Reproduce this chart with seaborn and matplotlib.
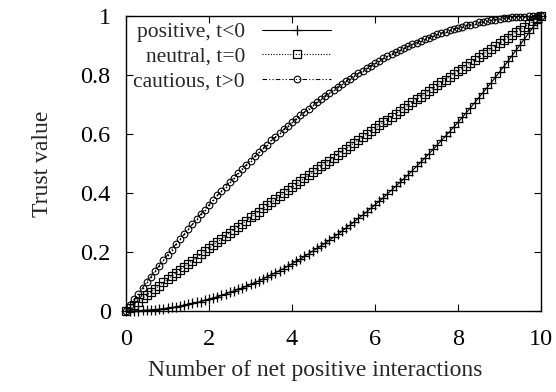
import numpy as np
import pandas as pd
import matplotlib
matplotlib.use("Agg")
import matplotlib.pyplot as plt
import seaborn as sns

# number of net positive interactions, 0 .. 10 in steps of 0.1
interactions = np.round(np.linspace(0, 10, 101), 1)

positive = [
    0.000, 0.000, 0.000, 0.001, 0.002, 0.003, 0.004, 0.005, 0.006, 0.008,
    0.010, 0.012, 0.014, 0.017, 0.020, 0.023, 0.026, 0.029, 0.032, 0.036,
    0.040, 0.044, 0.048, 0.053, 0.058, 0.063, 0.068, 0.073, 0.078, 0.084,
    0.090, 0.096, 0.102, 0.109, 0.116, 0.123, 0.130, 0.137, 0.144, 0.152,
    0.160, 0.168, 0.176, 0.185, 0.194, 0.203, 0.212, 0.221, 0.230, 0.240,
    0.250, 0.260, 0.270, 0.281, 0.292, 0.303, 0.314, 0.325, 0.336, 0.348,
    0.360, 0.372, 0.384, 0.397, 0.410, 0.423, 0.436, 0.449, 0.462, 0.476,
    0.490, 0.504, 0.518, 0.533, 0.548, 0.563, 0.578, 0.593, 0.608, 0.624,
    0.640, 0.656, 0.672, 0.689, 0.706, 0.723, 0.740, 0.757, 0.774, 0.792,
    0.810, 0.828, 0.846, 0.865, 0.884, 0.903, 0.922, 0.941, 0.960, 0.980,
    1.000]

neutral = [
    0.000, 0.011, 0.022, 0.032, 0.043, 0.054, 0.065, 0.075, 0.086, 0.097,
    0.107, 0.118, 0.128, 0.139, 0.150, 0.160, 0.171, 0.181, 0.192, 0.202,
    0.213, 0.223, 0.234, 0.244, 0.255, 0.265, 0.275, 0.286, 0.296, 0.306,
    0.317, 0.327, 0.337, 0.348, 0.358, 0.368, 0.378, 0.389, 0.399, 0.409,
    0.419, 0.429, 0.439, 0.450, 0.460, 0.470, 0.480, 0.490, 0.500, 0.510,
    0.520, 0.530, 0.540, 0.550, 0.560, 0.570, 0.580, 0.590, 0.599, 0.609,
    0.619, 0.629, 0.639, 0.649, 0.658, 0.668, 0.678, 0.688, 0.697, 0.707,
    0.717, 0.726, 0.736, 0.746, 0.755, 0.765, 0.775, 0.784, 0.794, 0.803,
    0.813, 0.822, 0.832, 0.841, 0.851, 0.860, 0.870, 0.879, 0.888, 0.898,
    0.907, 0.917, 0.926, 0.935, 0.945, 0.954, 0.963, 0.972, 0.982, 0.991,
    1.000]

cautious = [
    0.000, 0.020, 0.040, 0.059, 0.078, 0.098, 0.116, 0.135, 0.154, 0.172,
    0.190, 0.208, 0.226, 0.243, 0.260, 0.278, 0.294, 0.311, 0.328, 0.344,
    0.360, 0.376, 0.392, 0.407, 0.422, 0.438, 0.452, 0.467, 0.482, 0.496,
    0.510, 0.524, 0.538, 0.551, 0.564, 0.578, 0.590, 0.603, 0.616, 0.628,
    0.640, 0.652, 0.664, 0.675, 0.686, 0.698, 0.708, 0.719, 0.730, 0.740,
    0.750, 0.760, 0.770, 0.779, 0.788, 0.798, 0.806, 0.815, 0.824, 0.832,
    0.840, 0.848, 0.856, 0.863, 0.870, 0.878, 0.884, 0.891, 0.898, 0.904,
    0.910, 0.916, 0.922, 0.927, 0.932, 0.938, 0.942, 0.947, 0.952, 0.956,
    0.960, 0.964, 0.968, 0.971, 0.974, 0.978, 0.980, 0.983, 0.986, 0.988,
    0.990, 0.992, 0.994, 0.995, 0.996, 0.998, 0.998, 0.999, 1.000, 1.000,
    1.000]

labels = ["positive, t<0", "neutral, t=0", "cautious, t>0"]
xticks = [0, 2, 4, 6, 8, 10]
yticks = [0, 0.2, 0.4, 0.6, 0.8, 1]

df = pd.DataFrame({"x": interactions, "positive": positive,
                   "neutral": neutral, "cautious": cautious})

sns.set_style("ticks")
plt.rcParams["font.family"] = ["Liberation Serif", "DejaVu Serif"]

fig = plt.figure(figsize=(5.56, 3.92), dpi=100)
ax = fig.add_axes([126 / 556, 1 - 311 / 392, 415 / 556, 295 / 392])

styles = [
    ("positive", "+", "-", 6.5, 0.9),
    ("neutral", "s", (0, (1, 1.5)), 5.4, 0.9),
    ("cautious", "o", (0, (4, 2, 1, 2, 1, 2)), 4.8, 0.8),
]
for (col, mk, ls, ms, mw), lab in zip(styles, labels):
    sns.lineplot(data=df, x="x", y=col, ax=ax, color="black", linewidth=0.8,
                 linestyle=ls, marker=mk, markersize=ms, markeredgewidth=mw,
                 markeredgecolor="black", markerfacecolor="none",
                 label=lab, clip_on=False, zorder=3)
# dot in the middle of the cautious circles
sns.lineplot(data=df, x="x", y="cautious", ax=ax, color="black", linewidth=0,
             marker="o", markersize=1.2, markeredgewidth=0,
             markerfacecolor="black", clip_on=False, zorder=4, legend=False)

ax.set_xlim(0, 10)
ax.set_ylim(0, 1)
ax.set_xticks(xticks)
ax.set_yticks(yticks)
ax.set_yticklabels([f"{v:g}" for v in yticks])
ax.tick_params(direction="in", length=5, width=0.8, top=True, right=True,
               labelsize=17.5, colors="black")
ax.tick_params(axis="x", pad=13)
ax.tick_params(axis="y", pad=11)
for s in ax.spines.values():
    s.set_linewidth(1.0)
    s.set_color("black")
ax.set_xlabel("Number of net positive interactions", fontsize=17)
ax.xaxis.set_label_coords(0.455, -0.165)
ax.set_ylabel("Trust value", fontsize=17, labelpad=20)

handles, labs = ax.get_legend_handles_labels()
ax.legend(handles[:3], labs[:3], loc="upper right",
          bbox_to_anchor=(331 / 556, 1 - 22 / 392),
          bbox_transform=fig.transFigure, frameon=False, markerfirst=False,
          fontsize=15.5, handlelength=3.2, handletextpad=0.8, labelspacing=0.22,
          borderpad=0, borderaxespad=0, markerscale=1.0)

fig.savefig("out.png", dpi=100)
